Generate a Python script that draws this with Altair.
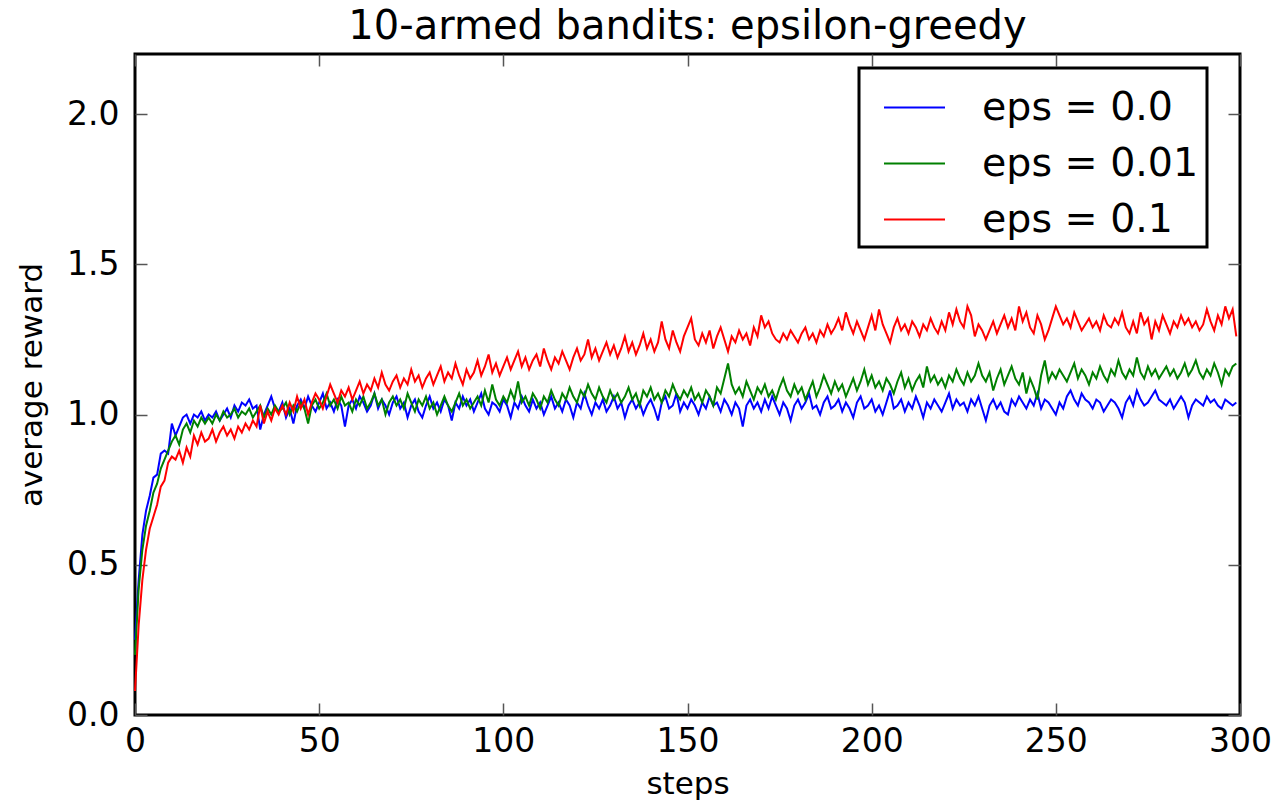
import altair as alt
import pandas as pd

title_text = "10-armed bandits: epsilon-greedy"
series_names = ["eps = 0.0", "eps = 0.01", "eps = 0.1"]
series_colors = ["#0000ff", "#008000", "#ff0000"]
x_ticks = [0, 50, 100, 150, 200, 250, 300]
y_ticks = [0.0, 0.5, 1.0, 1.5, 2.0]

eps_0 = [
    0.25, 0.45, 0.60, 0.68, 0.73, 0.79, 0.80, 0.87, 0.88, 0.87,
    0.97, 0.93, 0.96, 0.99, 1.00, 0.97, 1.00, 0.99, 1.01, 0.98,
    1.00, 0.99, 1.01, 0.98, 1.00, 1.02, 0.99, 1.03, 1.01, 1.04,
    1.03, 1.05, 1.02, 1.03, 0.95, 1.00, 1.03, 1.06, 1.02, 1.01,
    1.04, 0.99, 1.02, 0.97, 1.03, 1.05, 1.02, 1.06, 1.03, 1.01,
    1.04, 1.07, 1.02, 1.04, 1.01, 1.05, 1.03, 0.96, 1.03, 1.05,
    1.02, 1.06, 1.04, 1.01, 1.03, 1.07, 1.02, 1.05, 1.03, 1.00,
    1.04, 1.06, 1.02, 1.04, 0.99, 1.03, 1.05, 1.01, 0.99, 1.03,
    1.06, 1.02, 1.04, 1.01, 1.05, 1.03, 0.98, 1.04, 1.02, 1.06,
    1.03, 1.05, 1.01, 1.04, 1.07, 1.02, 1.00, 1.04, 1.03, 1.01,
    1.05, 1.03, 0.99, 1.04, 1.02, 1.06, 1.03, 1.01, 1.05, 1.02,
    1.04, 1.00, 1.03, 1.06, 1.02, 1.04, 1.01, 1.05, 1.03, 0.99,
    1.04, 1.02, 1.07, 1.03, 1.00, 1.04, 1.02, 1.05, 1.01, 1.03,
    1.06, 1.02, 1.04, 0.99, 1.03, 1.05, 1.02, 1.04, 1.00, 1.03,
    1.05, 1.02, 0.98, 1.04, 1.06, 1.02, 1.03, 1.07, 1.01, 1.04,
    1.02, 1.05, 1.03, 1.00, 1.04, 1.02, 1.06, 1.03, 1.04, 1.01,
    1.05, 1.03, 1.00, 1.04, 1.02, 0.96, 1.03, 1.05, 1.02, 1.04,
    1.01, 1.05, 1.02, 1.06, 1.03, 1.00, 1.04, 1.02, 0.98, 1.03,
    1.05, 1.02, 1.04, 1.07, 1.02, 1.03, 1.00, 1.04, 1.06, 1.02,
    1.03, 1.05, 1.01, 1.04, 1.02, 0.99, 1.04, 1.06, 1.02, 1.03,
    1.05, 1.01, 1.03, 1.00, 1.04, 1.08, 1.02, 1.03, 1.05, 1.01,
    1.04, 1.02, 1.06, 1.03, 0.99, 1.04, 1.02, 1.05, 1.03, 1.01,
    1.04, 1.07, 1.02, 1.05, 1.03, 1.04, 1.01, 1.05, 1.03, 1.06,
    1.02, 0.98, 1.03, 1.05, 1.02, 1.04, 1.01, 1.00, 1.05, 1.03,
    1.06, 1.04, 1.02, 1.05, 1.03, 1.07, 1.02, 1.05, 1.04, 1.02,
    1.00, 1.04, 1.02, 1.06, 1.08, 1.05, 1.03, 1.07, 1.05, 1.04,
    1.02, 1.05, 1.04, 1.01, 1.03, 1.05, 1.04, 1.02, 0.99, 1.04,
    1.06, 1.03, 1.08, 1.05, 1.03, 1.04, 1.06, 1.08, 1.05, 1.04,
    1.03, 1.05, 1.02, 1.04, 1.06, 1.04, 0.99, 1.03, 1.05, 1.04,
    1.03, 1.06, 1.04, 1.05, 1.03, 1.02, 1.05, 1.04, 1.03, 1.04,
]

eps_001 = [
    0.20, 0.42, 0.55, 0.63, 0.68, 0.74, 0.77, 0.82, 0.85, 0.88,
    0.91, 0.93, 0.90, 0.95, 0.97, 0.94, 0.98, 0.96, 0.99, 0.97,
    0.99, 0.97, 1.00, 0.98, 1.01, 0.99, 1.00, 1.02, 0.99, 1.01,
    1.00, 1.02, 0.99, 1.01, 1.03, 0.99, 1.02, 1.00, 1.03, 1.01,
    1.02, 1.04, 1.00, 1.03, 1.01, 1.04, 1.02, 0.97, 1.03, 1.05,
    1.02, 1.04, 1.07, 1.03, 1.05, 1.02, 1.06, 1.03, 1.04, 1.01,
    1.05, 1.03, 1.06, 1.02, 1.04, 1.07, 1.03, 1.05, 1.00, 1.04,
    1.06, 1.03, 1.05, 1.02, 1.07, 1.04, 1.01, 1.05, 1.03, 1.06,
    1.02, 1.04, 1.00, 1.03, 1.06, 1.03, 1.01, 1.04, 1.07, 1.03,
    1.05, 1.02, 1.04, 1.06, 1.03, 1.08, 1.04, 1.10, 1.05, 1.03,
    1.06, 1.04, 1.08, 1.05, 1.11, 1.04, 1.06, 1.03, 1.07, 1.05,
    1.02, 1.06, 1.04, 1.08, 1.05, 1.03, 1.07, 1.05, 1.09, 1.06,
    1.04, 1.08, 1.06, 1.10, 1.07, 1.05, 1.09, 1.06, 1.04, 1.08,
    1.05, 1.07, 1.04, 1.06, 1.09, 1.05, 1.07, 1.03, 1.08, 1.06,
    1.09, 1.05, 1.07, 1.04, 1.08, 1.06, 1.10, 1.07, 1.05, 1.08,
    1.06, 1.09, 1.05, 1.07, 1.04, 1.08, 1.06, 1.03, 1.09, 1.07,
    1.12, 1.17, 1.10, 1.07, 1.09, 1.06, 1.11, 1.08, 1.05, 1.09,
    1.07, 1.10, 1.06, 1.08, 1.05, 1.09, 1.12, 1.08, 1.06, 1.10,
    1.07, 1.09, 1.05, 1.08, 1.11, 1.06, 1.09, 1.13, 1.10, 1.07,
    1.11, 1.08, 1.10, 1.06, 1.09, 1.12, 1.08, 1.11, 1.15, 1.10,
    1.13, 1.09, 1.11, 1.08, 1.12, 1.10, 1.07, 1.11, 1.14, 1.09,
    1.12, 1.08, 1.11, 1.13, 1.09, 1.16, 1.11, 1.13, 1.10, 1.12,
    1.09, 1.13, 1.11, 1.15, 1.12, 1.10, 1.14, 1.11, 1.13, 1.17,
    1.13, 1.11, 1.14, 1.08, 1.12, 1.15, 1.10, 1.13, 1.16, 1.12,
    1.10, 1.14, 1.07, 1.12, 1.09, 1.05, 1.13, 1.18, 1.11, 1.14,
    1.12, 1.15, 1.13, 1.11, 1.14, 1.17, 1.12, 1.15, 1.13, 1.10,
    1.14, 1.12, 1.16, 1.13, 1.11, 1.15, 1.13, 1.18, 1.14, 1.12,
    1.15, 1.13, 1.19, 1.14, 1.12, 1.16, 1.13, 1.15, 1.12, 1.14,
    1.16, 1.13, 1.15, 1.12, 1.14, 1.17, 1.13, 1.15, 1.18, 1.14,
    1.12, 1.15, 1.13, 1.17, 1.14, 1.10, 1.15, 1.13, 1.16, 1.17,
]

eps_01 = [
    0.08, 0.30, 0.45, 0.55, 0.62, 0.66, 0.70, 0.76, 0.78, 0.84,
    0.86, 0.85, 0.88, 0.84, 0.89, 0.86, 0.93, 0.90, 0.94, 0.91,
    0.92, 0.95, 0.91, 0.94, 0.96, 0.93, 0.95, 0.92, 0.96, 0.94,
    0.97, 0.95, 0.98, 0.96, 1.03, 0.97, 1.01, 0.98, 1.02, 1.00,
    1.03, 1.00, 1.04, 1.01, 1.06, 1.02, 1.05, 1.00, 1.04, 1.07,
    1.05, 1.02, 1.06, 1.10, 1.07, 1.04, 1.08, 1.06, 1.09, 1.05,
    1.08, 1.11, 1.07, 1.10, 1.08, 1.12, 1.09, 1.14, 1.10, 1.08,
    1.11, 1.13, 1.09, 1.12, 1.10, 1.15, 1.11, 1.13, 1.09, 1.12,
    1.14, 1.10, 1.13, 1.16, 1.11, 1.14, 1.12, 1.17, 1.13, 1.10,
    1.15, 1.12, 1.14, 1.18, 1.13, 1.16, 1.20, 1.14, 1.17, 1.13,
    1.16, 1.19, 1.15, 1.18, 1.21, 1.16, 1.19, 1.15, 1.18, 1.20,
    1.16, 1.22, 1.18, 1.15, 1.19, 1.17, 1.21, 1.18, 1.15, 1.19,
    1.22, 1.18, 1.20, 1.25, 1.19, 1.22, 1.18, 1.21, 1.24, 1.20,
    1.23, 1.19, 1.22, 1.26, 1.21, 1.24, 1.20, 1.23, 1.27, 1.22,
    1.25, 1.21, 1.24, 1.31, 1.25, 1.22, 1.28, 1.24, 1.21, 1.26,
    1.29, 1.32, 1.25, 1.23, 1.27, 1.24, 1.28, 1.22, 1.26, 1.29,
    1.25, 1.21, 1.26, 1.24, 1.28, 1.25, 1.27, 1.23, 1.29, 1.26,
    1.33, 1.29, 1.31, 1.27, 1.25, 1.24, 1.27, 1.25, 1.28, 1.26,
    1.24, 1.27, 1.29, 1.25, 1.27, 1.24, 1.28, 1.26, 1.30, 1.27,
    1.29, 1.32, 1.28, 1.34, 1.30, 1.27, 1.31, 1.28, 1.25, 1.29,
    1.33, 1.28, 1.35, 1.30, 1.27, 1.24, 1.29, 1.32, 1.28, 1.30,
    1.27, 1.31, 1.29, 1.26, 1.30, 1.28, 1.32, 1.29, 1.27, 1.31,
    1.28, 1.34, 1.30, 1.35, 1.31, 1.29, 1.36, 1.33, 1.26, 1.30,
    1.28, 1.25, 1.28, 1.31, 1.27, 1.30, 1.33, 1.29, 1.32, 1.28,
    1.36, 1.31, 1.34, 1.29, 1.27, 1.33, 1.30, 1.25, 1.28, 1.32,
    1.36, 1.33, 1.30, 1.32, 1.29, 1.34, 1.31, 1.28, 1.30, 1.32,
    1.29, 1.31, 1.28, 1.33, 1.30, 1.29, 1.32, 1.30, 1.34, 1.29,
    1.27, 1.31, 1.27, 1.34, 1.30, 1.32, 1.25, 1.31, 1.28, 1.33,
    1.30, 1.27, 1.31, 1.29, 1.33, 1.30, 1.32, 1.29, 1.31, 1.28,
    1.30, 1.35, 1.31, 1.28, 1.33, 1.30, 1.36, 1.32, 1.35, 1.26,
]

rows = []
for name, vals in zip(series_names, [eps_0, eps_001, eps_01]):
    for i, v in enumerate(vals):
        rows.append({"step": i, "reward": v, "series": name})
df = pd.DataFrame(rows)

FONT = "DejaVu Sans"
xscale = alt.Scale(domain=[0, 300], nice=False, zero=False)
yscale = alt.Scale(domain=[0, 2.2], nice=False)

lines = alt.Chart(df).mark_line(strokeWidth=2).encode(
    x=alt.X("step:Q", scale=xscale,
            axis=alt.Axis(orient="bottom", values=x_ticks, format="d", title="steps",
                          offset=-12, tickSize=12, domain=False, labelPadding=10,
                          labelFlush=False, labelOverlap=False, titlePadding=11)),
    y=alt.Y("reward:Q", scale=yscale,
            axis=alt.Axis(orient="left", values=y_ticks, format=".1f", title="average reward",
                          offset=-12, tickSize=12, domain=False, labelPadding=16,
                          labelFlush=False, labelOverlap=False, titlePadding=18)),
    color=alt.Color("series:N",
                    scale=alt.Scale(domain=series_names, range=series_colors),
                    legend=alt.Legend(title=None, orient="none", legendX=724, legendY=14,
                                      symbolType="stroke", symbolSize=3721,
                                      symbolStrokeWidth=2, symbolOffset=16,
                                      labelFontSize=39.5, labelFont=FONT, labelColor="black",
                                      labelLimit=600,
                                      padding=8, rowPadding=5, labelOffset=36,
                                      strokeColor="black")),
)

frame_axes = alt.Chart(df).mark_line(strokeOpacity=0).encode(
    x=alt.X("step:Q", scale=xscale,
            axis=alt.Axis(orient="top", values=x_ticks, labels=False, title=None,
                          offset=-12, tickSize=12, domain=False)),
    y=alt.Y("reward:Q", scale=yscale,
            axis=alt.Axis(orient="right", values=y_ticks, labels=False, title=None,
                          offset=-12, tickSize=12, domain=False)),
    detail="series:N",
)

chart = alt.layer(lines, frame_axes).resolve_axis(
    x="independent", y="independent"
).properties(
    width=1105,
    height=661,
    autosize=alt.AutoSizeParams(type="none"),
    padding={"left": 135, "top": 54, "right": 31, "bottom": 86},
    title=alt.TitleParams(text=title_text, fontSize=40, font=FONT, fontWeight="normal",
                          color="black", offset=6, anchor="middle"),
).configure_view(
    stroke="black", strokeWidth=3
).configure_axis(
    labelFont=FONT, titleFont=FONT, labelFontSize=33, titleFontSize=31,
    labelColor="black", titleColor="black", titleFontWeight="normal",
    tickColor="#555555", tickWidth=1.5, grid=False,
).configure_legend(
    strokeWidth=3
)

chart.save("out.html", embed_options={"renderer": "svg", "actions": False})
